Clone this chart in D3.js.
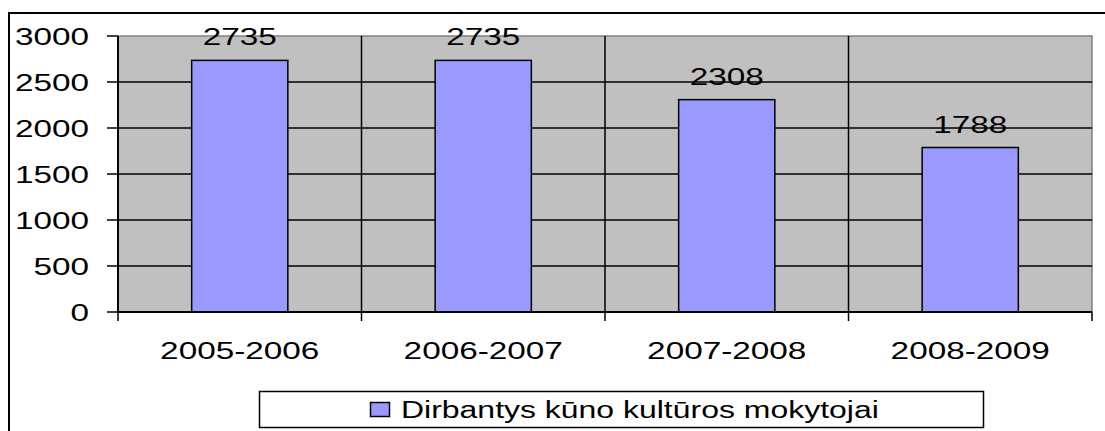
<!DOCTYPE html>
<html>
  <head>
    <meta charset="utf-8">
    <style>
      body { margin: 0; background: #fff; }
      svg text { font-family: Arial, "Liberation Sans", sans-serif; fill: #000; }
    </style>
  </head>
  <body>
    <div class='chart-container'></div>
    <script src="https://cdn.jsdelivr.net/npm/d3@7"></script>
    <script>
// chart data
var categories = ['2005-2006', '2006-2007', '2007-2008', '2008-2009'];
var teachers = [2735, 2735, 2308, 1788];
var yTicks = [0, 500, 1000, 1500, 2000, 2500, 3000];
var seriesName = 'Dirbantys kūno kultūros mokytojai';

var barColor = '#9999ff';
var stretch = 1.36; // text in the original is stretched horizontally
var fontSize = 24.5;

var svg = d3.select('.chart-container').append('svg')
    .attr('width', 1105)
    .attr('height', 431);

var plot = {left: 118, right: 1092, top: 36, bottom: 312};

var x = d3.scaleBand()
    .domain(categories)
    .range([plot.left, plot.right])
    .paddingInner(0.605)
    .paddingOuter(0.3025);

var y = d3.scaleLinear()
    .domain([0, 3000])
    .range([plot.bottom, plot.top]);

function stretchedText(g, str, tx, ty, anchor) {
  return g.append('text')
      .attr('transform', 'translate(' + tx + ',' + ty + ') scale(' + stretch + ',1)')
      .attr('text-anchor', anchor)
      .style('font-size', fontSize + 'px')
      .text(str);
}

// outer frame (clipped at right and bottom in the original)
svg.append('path')
    .attr('d', 'M9,440V13H1110')
    .style('fill', 'none')
    .style('stroke', '#000')
    .style('stroke-width', 2);

// plot background
svg.append('rect')
    .attr('x', plot.left)
    .attr('y', plot.top)
    .attr('width', plot.right - plot.left)
    .attr('height', plot.bottom - plot.top)
    .style('fill', '#c0c0c0');

svg.append('path')
    .attr('d', 'M' + plot.left + ',' + plot.top + 'H' + plot.right + 'V' + plot.bottom)
    .style('fill', 'none')
    .style('stroke', '#808080')
    .style('stroke-width', 1.5);

// horizontal gridlines
svg.append('g').selectAll('line')
    .data(yTicks.filter(d => d > 0 && d < 3000))
  .enter().append('line')
    .attr('x1', plot.left)
    .attr('x2', plot.right)
    .attr('y1', d => y(d))
    .attr('y2', d => y(d))
    .style('stroke', '#000')
    .style('stroke-width', 1.5);

// vertical gridlines at category boundaries
var step = x.step();
var bounds = d3.range(categories.length + 1).map(i => plot.left + i * step);

svg.append('g').selectAll('line')
    .data(bounds.slice(1, -1))
  .enter().append('line')
    .attr('x1', d => d)
    .attr('x2', d => d)
    .attr('y1', plot.top)
    .attr('y2', plot.bottom)
    .style('stroke', '#000')
    .style('stroke-width', 1.5);

// bars
svg.append('g').selectAll('rect')
    .data(teachers)
  .enter().append('rect')
    .attr('x', (d, i) => x(categories[i]))
    .attr('y', d => y(d))
    .attr('width', x.bandwidth())
    .attr('height', d => y(0) - y(d))
    .style('fill', barColor)
    .style('stroke', '#000')
    .style('stroke-width', 1.5);

// value labels
var labels = svg.append('g');
teachers.forEach((d, i) => {
  stretchedText(labels, d, x(categories[i]) + x.bandwidth() / 2, y(d) - 15, 'middle');
});

// y axis
var axisG = svg.append('g');
axisG.append('line')
    .attr('x1', plot.left).attr('x2', plot.left)
    .attr('y1', plot.top).attr('y2', plot.bottom)
    .style('stroke', '#000').style('stroke-width', 2);

yTicks.forEach(t => {
  axisG.append('line')
      .attr('x1', plot.left - 11).attr('x2', plot.left)
      .attr('y1', y(t)).attr('y2', y(t))
      .style('stroke', '#000').style('stroke-width', 1.5);
  stretchedText(axisG, t, 89, y(t) + 9, 'end');
});

// x axis
axisG.append('line')
    .attr('x1', plot.left).attr('x2', plot.right)
    .attr('y1', plot.bottom).attr('y2', plot.bottom)
    .style('stroke', '#000').style('stroke-width', 2);

bounds.forEach(b => {
  axisG.append('line')
      .attr('x1', b).attr('x2', b)
      .attr('y1', plot.bottom).attr('y2', plot.bottom + 9)
      .style('stroke', '#000').style('stroke-width', 1.5);
});

categories.forEach(c => {
  stretchedText(axisG, c, x(c) + x.bandwidth() / 2, 359, 'middle');
});

// legend
var legend = svg.append('g');
legend.append('rect')
    .attr('x', 259.5).attr('y', 391.5)
    .attr('width', 724).attr('height', 36)
    .style('fill', '#fff')
    .style('stroke', '#000')
    .style('stroke-width', 1.5);
legend.append('rect')
    .attr('x', 370.5).attr('y', 402.5)
    .attr('width', 19).attr('height', 14)
    .style('fill', barColor)
    .style('stroke', '#000')
    .style('stroke-width', 1.5);
stretchedText(legend, seriesName, 401, 418, 'start')
    .style('font-size', '23.5px');
    </script>
  </body>
</html>
